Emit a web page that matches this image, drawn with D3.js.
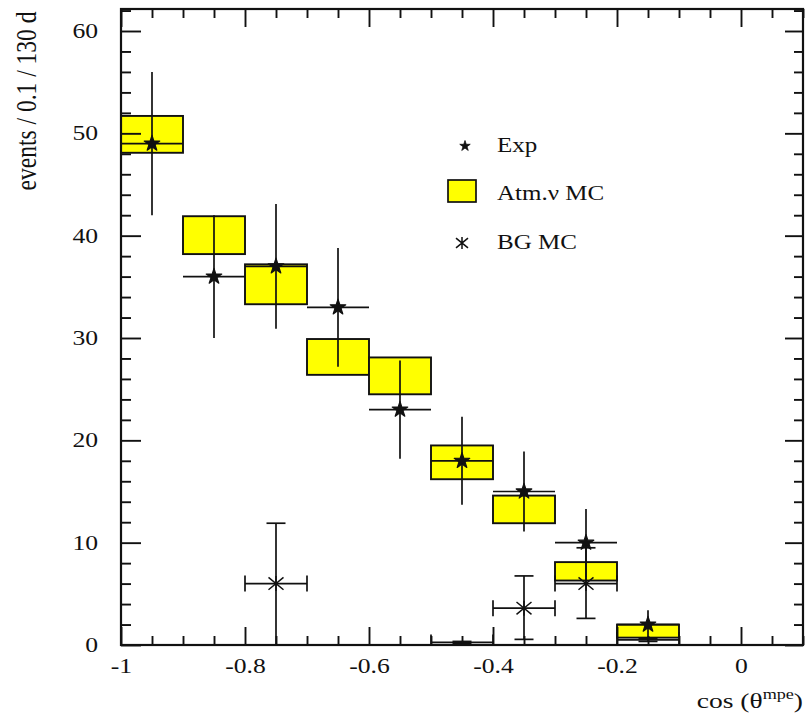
<!DOCTYPE html>
<html>
<head>
<meta charset="utf-8">
<script src="https://cdn.jsdelivr.net/npm/d3@7"></script>
<style>
  html, body { margin: 0; padding: 0; background: #fff; }
  svg { display: block; }
  text { font-family: "Liberation Serif", "Times New Roman", serif; fill: #111; }
</style>
</head>
<body>
<svg id="chart" width="807" height="713"></svg>
<script>
// Bin centres along cos(theta_mpe); every bin is 0.1 wide
const binCenters = [-0.95, -0.85, -0.75, -0.65, -0.55, -0.45, -0.35, -0.25, -0.15];
const binWidth = 0.1;

// Experimental counts with their statistical errors
const expCounts = [49, 36, 37, 33, 23, 18, 15, 10, 2];
const expErr    = [7.0, 6.0, 6.1, 5.8, 4.8, 4.3, 3.9, 3.3, 1.4];

// Atmospheric neutrino MC band (low / high edge per bin)
const mcLow  = [48.1, 38.2, 33.3, 26.4, 24.5, 16.2, 11.9, 6.3, 0.72];
const mcHigh = [51.7, 41.9, 37.2, 29.9, 28.1, 19.5, 14.6, 8.1, 2.0];

// Background MC points
const bgCenters = [-0.75, -0.45, -0.35, -0.25, -0.15];
const bgCounts  = [6.0, 0.25, 3.6, 6.0, 0.5];
const bgLow     = [0.0, 0.15, 0.55, 2.6, 0.35];
const bgHigh    = [11.9, 0.35, 6.75, 9.5, 0.65];

// Axis ticks
const xTickValues = [-1, -0.8, -0.6, -0.4, -0.2, 0];
const xTickLabels = ["-1", "-0.8", "-0.6", "-0.4", "-0.2", "0"];
const yTickValues = [0, 10, 20, 30, 40, 50, 60];
const yTickLabels = ["0", "10", "20", "30", "40", "50", "60"];

const legendLabels = ["Exp", "Atm.\u03bd MC", "BG MC"];

const svg = d3.select("#chart");
const pL = 121, pR = 803, pT = 9, pB = 645;
const x = d3.scaleLinear().domain([-1, 0.1]).range([pL, pR]);
const y = d3.scaleLinear().domain([0, 62.15]).range([pB, pT]);

const ink = "#111";
const SX = 1.25; // horizontal widening of the lettering

// widen a text horizontally about its anchor point
function widen(sel) {
  sel.each(function () {
    const t = d3.select(this);
    const ax = +t.attr("x") || 0;
    t.attr("transform", `translate(${ax * (1 - SX)},0) scale(${SX},1)`);
  });
}

svg.append("defs").append("clipPath").attr("id", "plotClip")
  .append("rect").attr("x", pL).attr("y", pT)
  .attr("width", pR - pL).attr("height", pB - pT);

const plot = svg.append("g").attr("clip-path", "url(#plotClip)");

// --- Atm. nu MC boxes ---
plot.selectAll("rect.mc").data(binCenters).join("rect")
  .attr("class", "mc")
  .attr("x", (c) => x(c - binWidth / 2))
  .attr("width", (c) => x(c + binWidth / 2) - x(c - binWidth / 2))
  .attr("y", (c, i) => y(mcHigh[i]))
  .attr("height", (c, i) => y(mcLow[i]) - y(mcHigh[i]))
  .attr("fill", "#ffff00")
  .attr("stroke", ink)
  .attr("stroke-width", 1.9);

// --- Background MC: error bars with end caps ---
const capX = 9.5, capY = 8;
const bg = plot.append("g").attr("stroke", ink).attr("stroke-width", 1.7).attr("fill", "none");
bgCenters.forEach((c, i) => {
  const cx = x(c), cy = y(bgCounts[i]);
  const x0 = x(c - binWidth / 2), x1 = x(c + binWidth / 2);
  const yl = y(bgLow[i]), yh = y(bgHigh[i]);
  bg.append("line").attr("x1", x0).attr("x2", x1).attr("y1", cy).attr("y2", cy);
  bg.append("line").attr("x1", x0).attr("x2", x0).attr("y1", cy - capY).attr("y2", cy + capY);
  bg.append("line").attr("x1", x1).attr("x2", x1).attr("y1", cy - capY).attr("y2", cy + capY);
  bg.append("line").attr("x1", cx).attr("x2", cx).attr("y1", yl).attr("y2", yh);
  bg.append("line").attr("x1", cx - capX).attr("x2", cx + capX).attr("y1", yh).attr("y2", yh);
  if (bgLow[i] > 0) {
    bg.append("line").attr("x1", cx - capX).attr("x2", cx + capX).attr("y1", yl).attr("y2", yl);
  }
});

// asterisk marker: vertical stroke plus two diagonals
function asterisk(g, cx, cy, s) {
  const p = `M${cx},${cy - s}L${cx},${cy + s}` +
            `M${cx - s},${cy - s * 0.82}L${cx + s},${cy + s * 0.82}` +
            `M${cx - s},${cy + s * 0.82}L${cx + s},${cy - s * 0.82}`;
  g.append("path").attr("d", p).attr("stroke", ink).attr("stroke-width", 1.5).attr("fill", "none");
}
// markers for counts under one event would sit on the axis line; those are left out
bgCenters.forEach((c, i) => {
  if (bgCounts[i] >= 1) asterisk(plot, x(c), y(bgCounts[i]), 7.5);
});

// --- Experimental points ---
const ex = plot.append("g").attr("stroke", ink).attr("stroke-width", 1.7);
binCenters.forEach((c, i) => {
  const cy = y(expCounts[i]);
  ex.append("line").attr("x1", x(c - binWidth / 2)).attr("x2", x(c + binWidth / 2))
    .attr("y1", cy).attr("y2", cy);
  ex.append("line").attr("x1", x(c)).attr("x2", x(c))
    .attr("y1", y(expCounts[i] - expErr[i])).attr("y2", y(expCounts[i] + expErr[i]));
});
const star = d3.symbol().type(d3.symbolStar).size(75);
plot.selectAll("path.exp").data(binCenters).join("path")
  .attr("class", "exp")
  .attr("transform", (c, i) => `translate(${x(c)},${y(expCounts[i])})`)
  .attr("d", star)
  .attr("fill", ink)
  .attr("stroke", ink)
  .attr("stroke-width", 1.2)
  .attr("stroke-linejoin", "round");

// --- Axes: ticks point inwards on all four sides ---
const xMinor = d3.range(-1, 0.1001, 0.05).filter((v) => !xTickValues.some((t) => Math.abs(t - v) < 1e-6));
const yMinor = d3.range(0, 62.01, 2).filter((v) => v % 10 !== 0);

function axisGroup(axis, tx, ty) {
  const g = svg.append("g").attr("transform", `translate(${tx},${ty})`).call(axis);
  g.select(".domain").remove();
  g.selectAll("line").attr("stroke", ink).attr("stroke-width", 1.9);
  return g;
}

const xb = axisGroup(d3.axisBottom(x).tickValues(xTickValues).tickSizeInner(-18).tickSizeOuter(0)
  .tickPadding(13).tickFormat((d, i) => xTickLabels[i]), 0, pB);
axisGroup(d3.axisBottom(x).tickValues(xMinor).tickSizeInner(-9).tickSizeOuter(0).tickFormat(""), 0, pB);
axisGroup(d3.axisTop(x).tickValues(xTickValues).tickSizeInner(-18).tickSizeOuter(0).tickFormat(""), 0, pT);
axisGroup(d3.axisTop(x).tickValues(xMinor).tickSizeInner(-9).tickSizeOuter(0).tickFormat(""), 0, pT);

const yl = axisGroup(d3.axisLeft(y).tickValues(yTickValues).tickSizeInner(-20).tickSizeOuter(0)
  .tickPadding(23).tickFormat((d, i) => yTickLabels[i]), pL, 0);
axisGroup(d3.axisLeft(y).tickValues(yMinor).tickSizeInner(-10).tickSizeOuter(0).tickFormat(""), pL, 0);
axisGroup(d3.axisRight(y).tickValues(yTickValues).tickSizeInner(-18).tickSizeOuter(0).tickFormat(""), pR, 0);
axisGroup(d3.axisRight(y).tickValues(yMinor).tickSizeInner(-9).tickSizeOuter(0).tickFormat(""), pR, 0);

xb.selectAll("text").attr("font-size", 20.5).attr("fill", ink).attr("font-family", "Liberation Serif").call(widen);
yl.selectAll("text").attr("font-size", 20.5).attr("fill", ink).attr("font-family", "Liberation Serif").call(widen);

// frame
svg.append("rect").attr("x", pL).attr("y", pT)
  .attr("width", pR - pL).attr("height", pB - pT)
  .attr("fill", "none").attr("stroke", ink).attr("stroke-width", 2.2);

// --- Axis titles ---
svg.append("text")
  .attr("transform", `translate(36,101) scale(${SX},1) rotate(-90)`)
  .attr("text-anchor", "middle")
  .attr("font-size", 23.5)
  .text("events / 0.1 / 130 d");

const xt = svg.append("text").attr("x", 803).attr("y", 708).attr("text-anchor", "end").attr("font-size", 22);
xt.append("tspan").text("cos (\u03b8");
xt.append("tspan").attr("font-size", 14.5).attr("dy", -9).text("mpe");
xt.append("tspan").attr("dy", 9).text(")");
xt.call(widen);

// --- Legend ---
const lg = svg.append("g");
lg.append("path").attr("transform", "translate(465,146)")
  .attr("d", d3.symbol().type(d3.symbolStar).size(34)).attr("fill", ink)
  .attr("stroke", ink).attr("stroke-width", 0.8).attr("stroke-linejoin", "round");
lg.append("rect").attr("x", 448).attr("y", 180).attr("width", 28).attr("height", 22)
  .attr("fill", "#ffff00").attr("stroke", ink).attr("stroke-width", 1.7);
asterisk(lg, 462, 243, 6);
const ly = [152, 200, 249];
lg.selectAll("text").data(legendLabels).join("text")
  .attr("x", 497).attr("y", (d, i) => ly[i])
  .attr("font-size", 20)
  .text((d) => d)
  .call(widen);
</script>
</body>
</html>
